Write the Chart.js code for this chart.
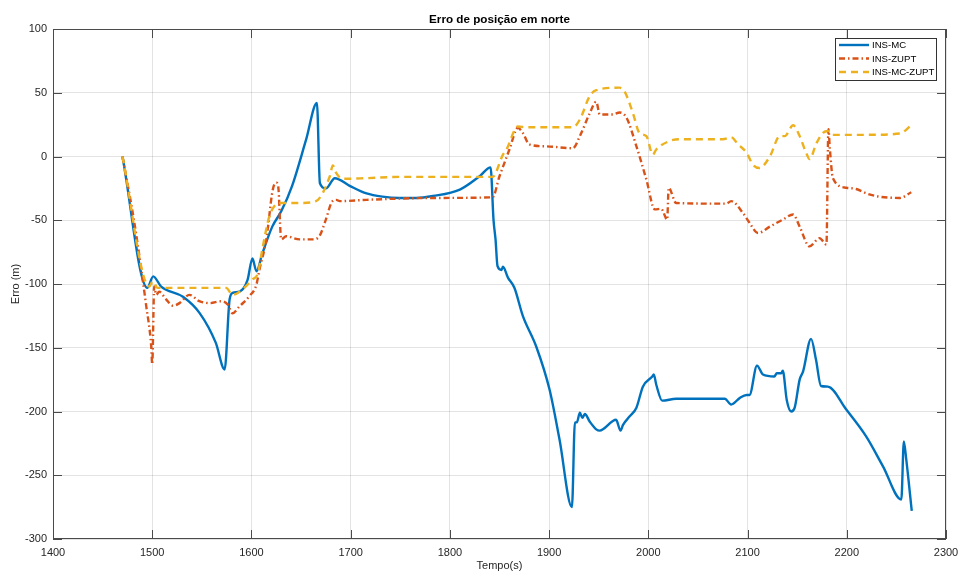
<!DOCTYPE html>
<html>
<head>
<meta charset="utf-8">
<script src="https://cdn.jsdelivr.net/npm/chart.js@4"></script>
<style>
  html, body { margin: 0; padding: 0; background: #fff; }
  #wrap { width: 960px; height: 572px; }
</style>
</head>
<body>
<div id="wrap"><canvas id="c" width="960" height="572"></canvas></div>
<script>
// North position error over time for three navigation solutions
const chartTitle = 'Erro de posição em norte';
const xTitle = 'Tempo(s)';
const yTitle = 'Erro (m)';
const seriesNames = ['INS-MC', 'INS-ZUPT', 'INS-MC-ZUPT'];

const xTicks = [1400, 1500, 1600, 1700, 1800, 1900, 2000, 2100, 2200, 2300];
const yTicks = [-300, -250, -200, -150, -100, -50, 0, 50, 100];

// INS-MC
const mcTime = [1470, 1495, 1501, 1509, 1531, 1548, 1564, 1573, 1578, 1581, 1588, 1596, 1601, 1605, 1611, 1621, 1630, 1641, 1655, 1666,
  1669, 1675, 1684, 1699, 1716, 1732, 1749, 1766, 1783, 1810, 1830, 1841, 1844, 1846, 1848, 1852, 1853.5, 1858.5, 1865, 1873.5,
  1887, 1900.5, 1910.5, 1923, 1926, 1928, 1931, 1933.5, 1936, 1941, 1947.5, 1951, 1967.5, 1972, 1974.5, 1981, 1988, 1994.5, 2004, 2005.5,
  2008, 2014, 2028, 2062, 2077, 2083.5, 2092, 2099, 2102, 2109.5, 2115.5, 2127, 2129.5, 2134, 2135.5, 2139.5, 2144, 2147.5, 2152.5, 2156,
  2164, 2169, 2174, 2181, 2199.5, 2219.5, 2236.5, 2255, 2257.5, 2260, 2265.5];
const mcErr = [0, -103, -94, -102, -110, -123, -146, -167, -112, -107, -106, -97, -80, -90, -76, -55, -43, -23, 13, 42,
  -21, -25, -17, -23, -29, -31.5, -32.5, -32.5, -31, -26, -15.5, -8.5, -50, -65, -86, -89, -86.5, -95, -103, -125,
  -149, -183, -222, -275, -208.5, -208.5, -201, -205, -202, -208, -214, -215, -206.5, -215, -210.5, -204, -197, -180.5, -172.5, -171,
  -179, -191.5, -190, -190, -190, -194.5, -189.5, -187, -187, -164, -171, -172.5, -170, -170, -168, -191, -200, -197, -175, -168.5,
  -143, -159.5, -180, -180.5, -198.5, -219.5, -243, -269, -223.5, -238, -278];

// INS-ZUPT
const zuptTime = [1470, 1482, 1494, 1499, 1500, 1502, 1504, 1507, 1514, 1521, 1527.5, 1537.5, 1547.5, 1558, 1569.5, 1576, 1581, 1588, 1598, 1605,
  1608, 1615, 1621.5, 1625, 1627, 1630, 1635, 1648.5, 1662, 1668.5, 1675, 1680.5, 1685.5, 1689, 1716, 1749, 1783, 1843, 1850, 1855,
  1860, 1868.5, 1873.5, 1880, 1897, 1924, 1931, 1941, 1947.5, 1951, 1964.5, 1971, 1978, 1988, 1998, 2006.5, 2013, 2019, 2020.5, 2028,
  2078.5, 2083.5, 2095.5, 2102, 2110.5, 2122.5, 2135.5, 2146, 2152.5, 2162.5, 2172.5, 2179.5, 2181.5, 2183, 2186, 2199.5, 2209.5, 2220, 2233, 2253.5,
  2265];
const zuptErr = [0, -52, -117.5, -149, -163, -102, -108.5, -106, -112, -117, -115, -108.5, -113.5, -115, -113.5, -116, -123, -117.5, -109.5, -100.5,
  -89, -65, -26, -20.5, -23.5, -65, -62.5, -65, -65, -62.5, -49.5, -36.5, -34, -35, -34, -33, -32.5, -32, -15.5, -5,
  5.5, 22.5, 18.5, 9.5, 8, 6.5, 16, 34, 43, 33, 33, 34.5, 30.5, 8, -18, -41.5, -41, -49.5, -24.5, -36.5,
  -37, -35, -44.5, -52, -60, -55, -49.5, -45.5, -55, -70.5, -64, -69, 21.5, 5.5, -17, -24.5, -25.5, -29, -31.5, -32.5,
  -28];

// INS-MC-ZUPT
const mczTime = [1470, 1497, 1500.5, 1505.5, 1574.5, 1581, 1588, 1601, 1606.5, 1611.5, 1618, 1623, 1628, 1648.5, 1665, 1679, 1682, 1685.5, 1692, 1716,
  1749, 1843, 1853.5, 1857, 1868.5, 1877, 1924, 1931, 1941, 1947.5, 1971, 1976, 1984.5, 1991, 1998, 2004.5, 2008, 2021, 2031, 2075,
  2083.5, 2090.5, 2099, 2105.5, 2112, 2122.5, 2132.5, 2137.5, 2146, 2152.5, 2159, 2162.5, 2169.5, 2176, 2181, 2186, 2220, 2253.5, 2265];
const mczErr = [0, -102, -98, -103, -103, -108.5, -106, -96.5, -91.5, -70.5, -47, -39, -36.5, -36.5, -35, -15.5, -7, -13, -17.5, -17,
  -16, -16, 1.5, 5.5, 23.5, 23, 23, 29, 47.5, 52, 54, 51, 34, 18.5, 16, 1.5, 5.5, 12, 13.5, 13.5,
  15, 9.5, 3, -6.5, -9, 0, 16, 16, 24.5, 16, 3, -2, 10.5, 18.5, 20, 17, 17, 18, 24.5];

const colors = ['#0072BD', '#D95319', '#EDB120'];
const dashes = [[], [6, 3, 1.5, 3], [7, 5]];

const toPoints = (xs, ys) => xs.map((x, i) => ({ x: x, y: ys[i] }));

const FONT = '"Liberation Sans", Arial, Helvetica, sans-serif';
const INK = '#262626';

// Frame, inward ticks, title, axis labels and legend in the style of a plot box
const framePlugin = {
  id: 'frame',
  afterDraw(chart) {
    const { ctx, chartArea: a, scales } = chart;
    ctx.save();
    // box
    ctx.strokeStyle = '#4a4a4a';
    ctx.lineWidth = 1;
    ctx.strokeRect(Math.round(a.left) + 0.5, Math.round(a.top) + 0.5,
      Math.round(a.right - a.left) - 1, Math.round(a.bottom - a.top) - 1);
    // inward ticks
    const tl = 9;
    ctx.beginPath();
    xTicks.forEach(v => {
      const px = Math.round(scales.x.getPixelForValue(v)) + 0.5;
      ctx.moveTo(px, a.top); ctx.lineTo(px, a.top + tl);
      ctx.moveTo(px, a.bottom); ctx.lineTo(px, a.bottom - tl);
    });
    yTicks.forEach(v => {
      const py = Math.round(scales.y.getPixelForValue(v)) + 0.5;
      ctx.moveTo(a.left, py); ctx.lineTo(a.left + tl, py);
      ctx.moveTo(a.right, py); ctx.lineTo(a.right - tl, py);
    });
    ctx.stroke();

    // title
    ctx.fillStyle = '#000';
    ctx.textAlign = 'center';
    ctx.textBaseline = 'middle';
    ctx.font = 'bold 11.7px ' + FONT;
    ctx.fillText(chartTitle, (a.left + a.right) / 2, 20);

    // axis labels
    ctx.fillStyle = INK;
    ctx.font = '11px ' + FONT;
    ctx.fillText(xTitle, (a.left + a.right) / 2, 566);
    ctx.save();
    ctx.translate(16, (a.top + a.bottom) / 2);
    ctx.rotate(-Math.PI / 2);
    ctx.fillText(yTitle, 0, 0);
    ctx.restore();

    // legend
    const lx = 835.5, ly = 38.5, lw = 101, lh = 42;
    ctx.fillStyle = '#fff';
    ctx.fillRect(lx, ly, lw, lh);
    ctx.strokeStyle = '#333';
    ctx.lineWidth = 1;
    ctx.strokeRect(lx, ly, lw, lh);
    ctx.font = '9.6px ' + FONT;
    ctx.textAlign = 'left';
    chart.data.datasets.forEach((ds, i) => {
      const y = 45 + i * 13.5;
      ctx.strokeStyle = ds.borderColor;
      ctx.lineWidth = 2.4;
      ctx.setLineDash(ds.borderDash || []);
      ctx.beginPath();
      ctx.moveTo(839, y); ctx.lineTo(869, y);
      ctx.stroke();
      ctx.setLineDash([]);
      ctx.fillStyle = '#000';
      ctx.fillText(ds.label, 872, y + 0.5);
    });
    ctx.restore();
  }
};

const datasets = [
  { label: seriesNames[0], data: toPoints(mcTime, mcErr), order: 3 },
  { label: seriesNames[1], data: toPoints(zuptTime, zuptErr), order: 2 },
  { label: seriesNames[2], data: toPoints(mczTime, mczErr), order: 1 }
].map((d, i) => Object.assign(d, {
  borderColor: colors[i],
  backgroundColor: colors[i],
  borderWidth: 2.4,
  borderDash: dashes[i],
  pointRadius: 0,
  showLine: true,
  fill: false,
  cubicInterpolationMode: 'monotone'
}));

new Chart(document.getElementById('c'), {
  type: 'scatter',
  data: { datasets: datasets },
  options: {
    responsive: false,
    devicePixelRatio: 1,
    animation: false,
    layout: { padding: { top: 29, right: 14, left: 0, bottom: 0 } },
    plugins: {
      legend: { display: false },
      title: { display: false },
      tooltip: { enabled: false }
    },
    scales: {
      x: {
        type: 'linear',
        min: 1400, max: 2300,
        afterBuildTicks: s => { s.ticks = xTicks.map(v => ({ value: v })); },
        afterFit: s => { s.height = 33; s.paddingLeft = 0; s.paddingRight = 0; },
        ticks: { color: INK, font: { family: FONT, size: 11 }, padding: 7, maxRotation: 0, autoSkip: false,
          callback: v => String(v) },
        grid: { color: 'rgba(38,38,38,0.13)', lineWidth: 1, drawTicks: false },
        border: { display: false }
      },
      y: {
        type: 'linear',
        min: -300, max: 100,
        afterBuildTicks: s => { s.ticks = yTicks.map(v => ({ value: v })); },
        afterFit: s => { s.width = 53; s.paddingTop = 0; s.paddingBottom = 0; },
        ticks: { color: INK, font: { family: FONT, size: 11 }, padding: 6, autoSkip: false,
          callback: v => String(v) },
        grid: { color: 'rgba(38,38,38,0.13)', lineWidth: 1, drawTicks: false },
        border: { display: false }
      }
    }
  },
  plugins: [framePlugin]
});
</script>
</body>
</html>
